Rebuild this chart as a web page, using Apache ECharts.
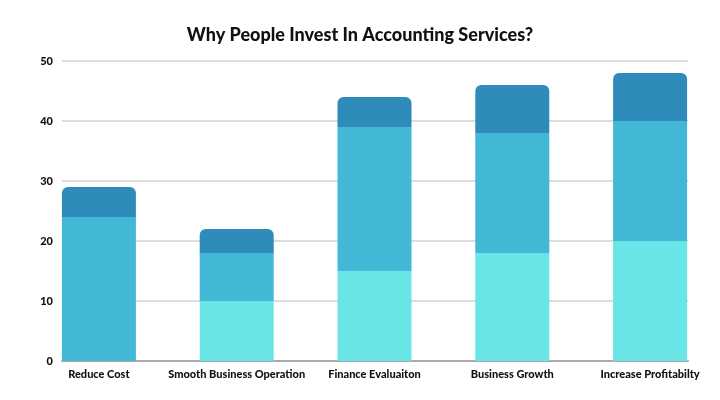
<!DOCTYPE html>
<html><head><meta charset="utf-8">
<script src="https://cdn.jsdelivr.net/npm/echarts@6/dist/echarts.min.js"></script>
<style>html,body{margin:0;padding:0;background:#fff}#c{width:720px;height:400px}</style>
</head><body><div id="c"></div>
<script>
const categories = ['Reduce Cost','Smooth Business Operation','Finance Evaluaiton','Business Growth','Increase Profitabilty'];
const seriesLight = [0, 10, 15, 18, 20];
const seriesMid = [24, 8, 24, 20, 20];
const seriesDark = [5, 4, 5, 8, 8];
const yTicks = [0, 10, 20, 30, 40, 50];

const FONT = 'Lato';
const chart = echarts.init(document.getElementById('c'));
chart.setOption({
  animation: false,
  title: {
    text: 'Why People Invest In Accounting Services?',
    left: 'center', top: 21,
    textStyle: {fontFamily: FONT, fontWeight: 900, fontSize: 18, color: '#111'}
  },
  grid: [
    {left: 62, right: 32, top: 61, bottom: 39},
    {left: 30, right: 1, top: 61, bottom: 39}
  ],
  xAxis: [
    {gridIndex: 0, type: 'value', min: 0, max: 1, show: true,
     axisLine: {show: true, lineStyle: {color: '#aaaaaa', width: 2}},
     axisTick: {show: false}, axisLabel: {show: false}, splitLine: {show: false}},
    {gridIndex: 1, type: 'category', data: categories,
     axisLine: {show: false}, axisTick: {show: false},
     axisLabel: {interval: 0, margin: 8, color: '#111', fontFamily: FONT, fontWeight: 900, fontSize: 11}}
  ],
  yAxis: [
    {gridIndex: 0, type: 'value', min: yTicks[0], max: yTicks[yTicks.length-1], interval: 10,
     axisLine: {show: false}, axisTick: {show: false},
     axisLabel: {margin: 9, color: '#111', fontFamily: FONT, fontWeight: 900, fontSize: 11},
     splitLine: {show: true, lineStyle: {color: '#dddddd', width: 2}}},
    {gridIndex: 1, type: 'value', min: yTicks[0], max: yTicks[yTicks.length-1], interval: 10, show: false,
     splitLine: {show: false}}
  ],
  series: [
    {name: 'A', type: 'bar', stack: 's', xAxisIndex: 1, yAxisIndex: 1, data: seriesLight,
     barWidth: 74, itemStyle: {color: '#69e5e8'}},
    {name: 'B', type: 'bar', stack: 's', xAxisIndex: 1, yAxisIndex: 1, data: seriesMid,
     barWidth: 74, itemStyle: {color: '#42b7d6'}},
    {name: 'C', type: 'bar', stack: 's', xAxisIndex: 1, yAxisIndex: 1, data: seriesDark,
     barWidth: 74, itemStyle: {color: '#2e8bba', borderRadius: [6, 6, 0, 0]}}
  ]
});
</script></body></html>
